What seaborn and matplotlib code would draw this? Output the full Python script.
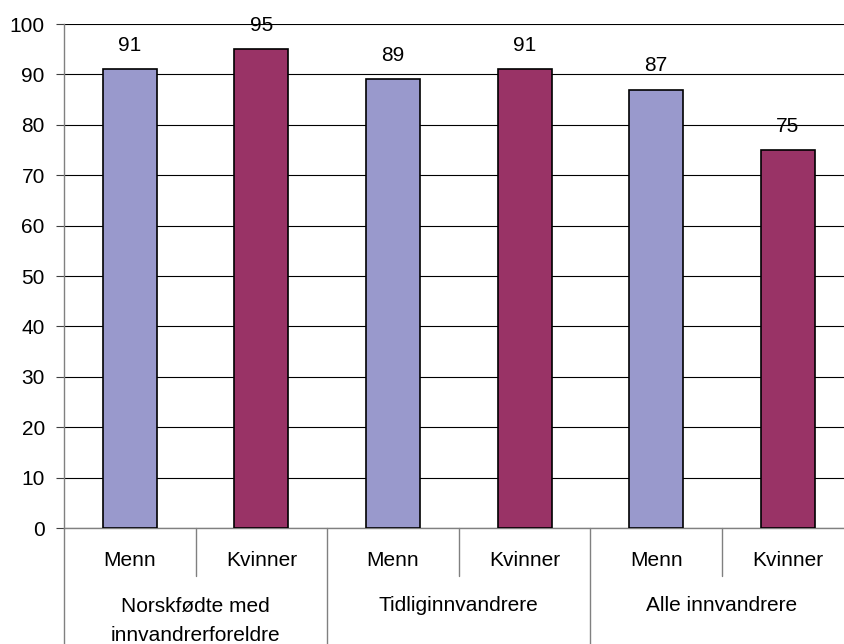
import pandas as pd
import matplotlib.pyplot as plt
import seaborn as sns

sns.set_theme(style="white")
plt.rcParams['font.family'] = ['Liberation Sans', 'DejaVu Sans']
plt.rcParams['text.color'] = 'black'
plt.rcParams['ytick.labelcolor'] = 'black'

# Data
groups = ["Norskfødte med\ninnvandrerforeldre", "Tidliginnvandrere", "Alle innvandrere"]
genders = ["Menn", "Kvinner"]
values = [91, 95, 89, 91, 87, 75]
colors = {"Menn": "#9999CC", "Kvinner": "#993366"}

df = pd.DataFrame({
    "pos": list(range(len(values))),
    "gender": [g for _ in groups for g in genders],
    "value": values,
})

FS = 15

fig = plt.figure(figsize=(8.44, 6.44), dpi=100)
ax = fig.add_axes([64 / 844, 116 / 644, 6 * 131.6 / 844, 504 / 644])

sns.barplot(data=df, x="pos", y="value", hue="gender", palette=colors,
            dodge=False, width=0.41, edgecolor="black", linewidth=1.2,
            saturation=1, legend=False, ax=ax, zorder=3)

ax.set_xlim(-0.5, 5.5)
ax.set_ylim(0, 100)
ax.set_yticks(range(0, 101, 10))
ax.tick_params(axis="y", labelsize=FS, length=5.8, width=0.8, color="#404040",
               labelcolor="black", left=True, pad=8)
ax.set_xticks([])
ax.set_xlabel("")
ax.set_ylabel("")
ax.yaxis.grid(True, color="black", linewidth=0.8)
ax.set_axisbelow(True)

for side in ["top", "right"]:
    ax.spines[side].set_visible(False)
for side in ["left", "bottom"]:
    ax.spines[side].set_color("#808080")
    ax.spines[side].set_linewidth(1)

# value labels
for i, v in enumerate(values):
    ax.annotate(str(v), (i, v), xytext=(0, 17), textcoords="offset points",
                ha="center", va="center", fontsize=FS, color="black", zorder=4)

# two-level category axis
tr = ax.get_xaxis_transform()
for i, g in enumerate(df["gender"]):
    ax.text(i, -0.064, g, transform=tr, ha="center", va="center", fontsize=FS)
for j, grp in enumerate(groups):
    y = -0.185 if "\n" in grp else -0.153
    ax.text(2 * j + 0.5, y, grp, transform=tr, ha="center", va="center",
            fontsize=FS, linespacing=1.7)

for x in [0.5, 2.5, 4.5]:
    ax.plot([x, x], [0, -0.095], transform=tr, color="#808080", lw=1, clip_on=False)
for x in [-0.5, 1.5, 3.5, 5.5]:
    ax.plot([x, x], [0, -0.24], transform=tr, color="#808080", lw=1, clip_on=False)

fig.savefig("out.png", dpi=100)
